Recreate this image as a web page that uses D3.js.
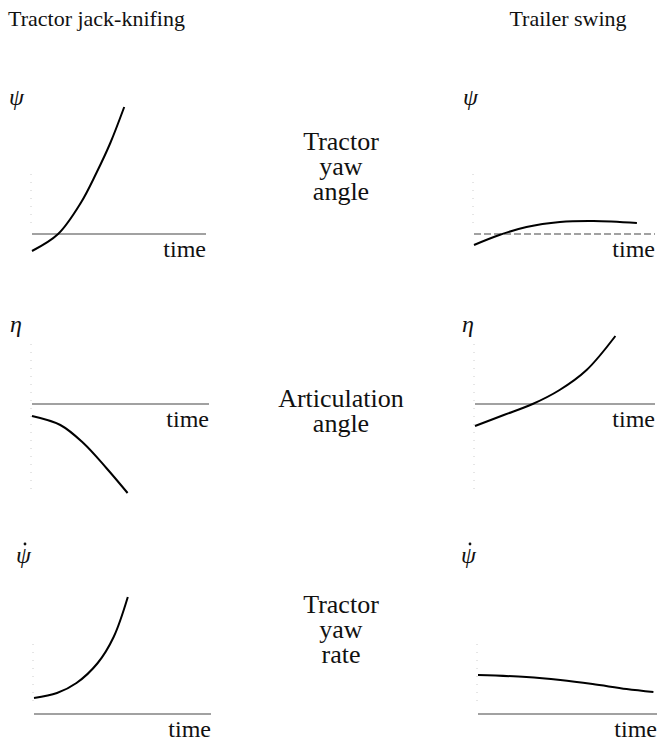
<!DOCTYPE html>
<html>
<head>
<meta charset="utf-8">
<script src="https://cdn.jsdelivr.net/npm/d3@7"></script>
<style>
  html, body { margin: 0; padding: 0; background: #fff; }
  svg { display: block; }
</style>
</head>
<body>
<div id="chart"></div>
<script>
// Responses: time in axis units (0..10), value in arbitrary units (zero = reference line)
const jackYawTime   = [0, 1.5, 2.8, 3.7, 4.5, 5.3];
const jackYawValue  = [-1.7, 0, 3.1, 6.1, 9.1, 12.7];
const swingYawTime  = [0, 1.4, 2.9, 4.75, 6.6, 9.0];
const swingYawValue = [-1.1, -0.1, 0.7, 1.2, 1.3, 1.1];

const jackArtTime   = [0, 1.6, 2.9, 4.2, 5.4];
const jackArtValue  = [-1.2, -2.1, -3.9, -6.4, -8.9];
const swingArtTime  = [0, 1.6, 3.2, 4.7, 6.2, 7.8];
const swingArtValue = [-2.2, -1.1, 0, 1.4, 3.4, 6.8];

const jackRateTime   = [0, 1.3, 2.4, 3.6, 4.5, 5.3];
const jackRateValue  = [1.6, 2.1, 3.1, 5.1, 7.7, 11.7];
const swingRateTime  = [0, 2.7, 4.6, 6.4, 8.3, 9.8];
const swingRateValue = [3.9, 3.7, 3.4, 3.0, 2.5, 2.2];

const columnTitles = ["Tractor jack-knifing", "Trailer swing"];
const rowLabels = [["Tractor", "yaw", "angle"], ["Articulation", "angle"], ["Tractor", "yaw", "rate"]];
const rowSymbols = ["ψ", "η", "ψ"];
const rowDotted = [false, false, true];   // ψ̇ : dot over the symbol for the rate row

const W = 659, H = 741;
const SERIF = "'Liberation Serif', 'Times New Roman', 'DejaVu Serif', serif";

// panel layout (pixels), kept apart from the data
const panels = [
  { row: 0, col: 0, x0: 32,  x1: 206, zero: 234, t: jackYawTime,   v: jackYawValue },
  { row: 0, col: 1, x0: 474, x1: 655, zero: 234, t: swingYawTime,  v: swingYawValue, dash: "7,3" },
  { row: 1, col: 0, x0: 32,  x1: 209, zero: 404, t: jackArtTime,   v: jackArtValue },
  { row: 1, col: 1, x0: 475, x1: 655, zero: 404, t: swingArtTime,  v: swingArtValue },
  { row: 2, col: 0, x0: 34,  x1: 211, zero: 714, t: jackRateTime,  v: jackRateValue },
  { row: 2, col: 1, x0: 478, x1: 657, zero: 714, t: swingRateTime, v: swingRateValue }
];
const symbolPos = [[9, 463], [10, 462], [16, 461]];
const symbolBase = [105, 332, 563];
const labelBase = [150, 407, 613];

const svg = d3.select("#chart").append("svg")
  .attr("width", W).attr("height", H)
  .attr("viewBox", `0 0 ${W} ${H}`)
  .attr("font-family", SERIF);

svg.append("rect").attr("width", W).attr("height", H).attr("fill", "#fff");

// column titles
svg.append("text").attr("x", 8).attr("y", 26)
  .attr("fill", "#111").attr("font-size", "22px").text(columnTitles[0]);
svg.append("text").attr("x", 568).attr("y", 26)
  .attr("fill", "#111").attr("text-anchor", "middle").attr("font-size", "22px")
  .text(columnTitles[1]);

// centre row labels, one text per line (tight leading as in the original)
rowLabels.forEach((lines, r) => {
  svg.append("g").selectAll("text")
    .data(lines)
    .join("text")
      .attr("fill", "#111")
      .attr("text-anchor", "middle")
      .attr("font-size", "26px")
      .attr("x", 341)
      .attr("y", (d, i) => labelBase[r] + i * 25)
      .text(d => d);
});

const line = d3.line().curve(d3.curveCatmullRom.alpha(0.5));

panels.forEach(p => {
  const x = d3.scaleLinear().domain([0, 10]).range([p.x0, p.x1]);
  const y = d3.scaleLinear().domain([-10, 15]).range([p.zero + 100, p.zero - 150]);
  const g = svg.append("g");

  // faint scanned-in axis at the left
  g.append("line")
    .attr("x1", x(0) - 1).attr("x2", x(0) - 1)
    .attr("y1", p.row === 2 ? y(7) : y(6)).attr("y2", p.row === 1 ? y(-9) : y(1))
    .attr("stroke", "#ccc").attr("stroke-width", 1)
    .attr("stroke-dasharray", "1,7");

  // reference (zero) line
  g.append("line")
    .attr("x1", x(0)).attr("x2", x(10))
    .attr("y1", y(0)).attr("y2", y(0))
    .attr("stroke", "#444").attr("stroke-width", 1.1)
    .attr("stroke-dasharray", p.dash || null);

  g.append("text")
    .attr("fill", "#111")
    .attr("x", x(10)).attr("y", y(0) + 23)
    .attr("text-anchor", "end")
    .attr("font-size", "24px")
    .text("time");

  g.append("path")
    .attr("d", line(p.t.map((t, i) => [x(t), y(p.v[i])])))
    .attr("fill", "none")
    .attr("stroke", "#000")
    .attr("stroke-width", 2);

  const sx = symbolPos[p.row][p.col], sy = symbolBase[p.row];
  g.append("text")
    .attr("fill", "#111")
    .attr("x", sx).attr("y", sy)
    .attr("font-size", "24px")
    .attr("font-style", "italic")
    .text(rowSymbols[p.row]);
  if (rowDotted[p.row]) {
    g.append("circle")
      .attr("cx", sx + 9).attr("cy", sy - 19)
      .attr("r", 1.4)
      .attr("fill", "#111");
  }
});
</script>
</body>
</html>
